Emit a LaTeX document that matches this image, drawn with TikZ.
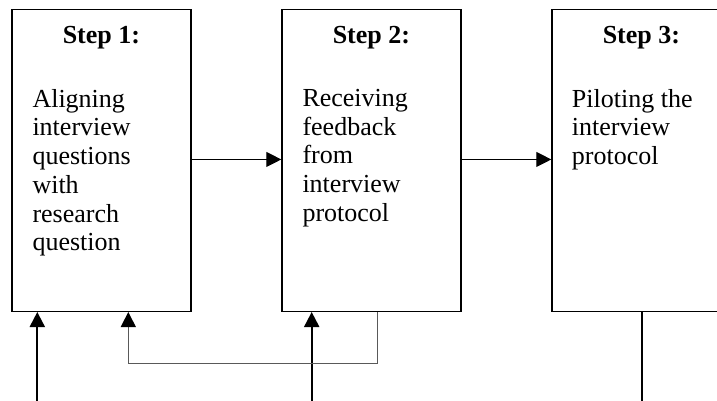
\documentclass[tikz,border=0pt]{standalone}
\usepackage{fontspec}
\setmainfont{Liberation Serif}
\usetikzlibrary{arrows.meta}
\begin{document}
\begin{tikzpicture}[x=1pt,y=-1pt,
  stepbox/.style={draw, line width=1.2pt, minimum width=179pt, minimum height=301.5pt, inner sep=0pt, anchor=north west},
  steptitle/.style={font=\fontsize{26}{28.7}\selectfont\bfseries, anchor=base, inner sep=0pt},
  stepbody/.style={font=\fontsize{26}{28.7}\selectfont, align=left, anchor=north west, inner sep=0pt},
  flowarr/.style={-{Triangle[length=15pt,width=15pt]}, line width=1.1pt},
  inarr/.style={-{Triangle[length=15pt,width=15pt]}, line width=2pt},
  fbarr/.style={-{Triangle[length=15pt,width=15pt,color=black,fill=black]}, line width=1pt, draw=black!65},
  outline/.style={line width=1.6pt},
  ]
\useasboundingbox (0,0) rectangle (717,401);
\clip (0,0) rectangle (717,401);
\node[stepbox] (b1) at (11.3,9.3) {};
\node[stepbox] (b2) at (281.3,9.3) {};
\node[stepbox] (b3) at (551.3,9.3) {};

\node[steptitle] (t1) at (b1.north |- 0,44) {Step 1:};
\node[steptitle] (t2) at (b2.north |- 0,44) {Step 2:};
\node[steptitle] (t3) at (b3.north |- 0,44) {Step 3:};

\node[stepbody] (d1) at (32.3,89) {Aligning\\interview\\questions\\with\\research\\question};
\node[stepbody] (d2) at (302.3,89) {Receiving\\feedback\\from\\interview\\protocol};
\node[stepbody] (d3) at (571.7,89) {Piloting the\\interview\\protocol};

\draw[flowarr] ([yshift=1.2pt]b1.east) -- ([yshift=1.2pt]b2.west);
\draw[flowarr] ([yshift=1.2pt]b2.east) -- ([yshift=1.2pt]b3.west);

\coordinate (in1) at (37.3,401);
\coordinate (in2) at (311.7,401);
\coordinate (out3) at (641.7,401);
\coordinate (fbs) at (377.3,0);
\coordinate (fbe) at (128.3,363.3);
\draw[inarr] (in1) -- (in1 |- b1.south);
\draw[inarr] (in2) -- (in2 |- b2.south);
\draw[outline] (b3.south -| out3) -- (out3);
\draw[fbarr] (fbs |- b2.south) -- (fbs |- fbe) -- (fbe) -- (fbe |- b1.south);
\end{tikzpicture}
\end{document}
